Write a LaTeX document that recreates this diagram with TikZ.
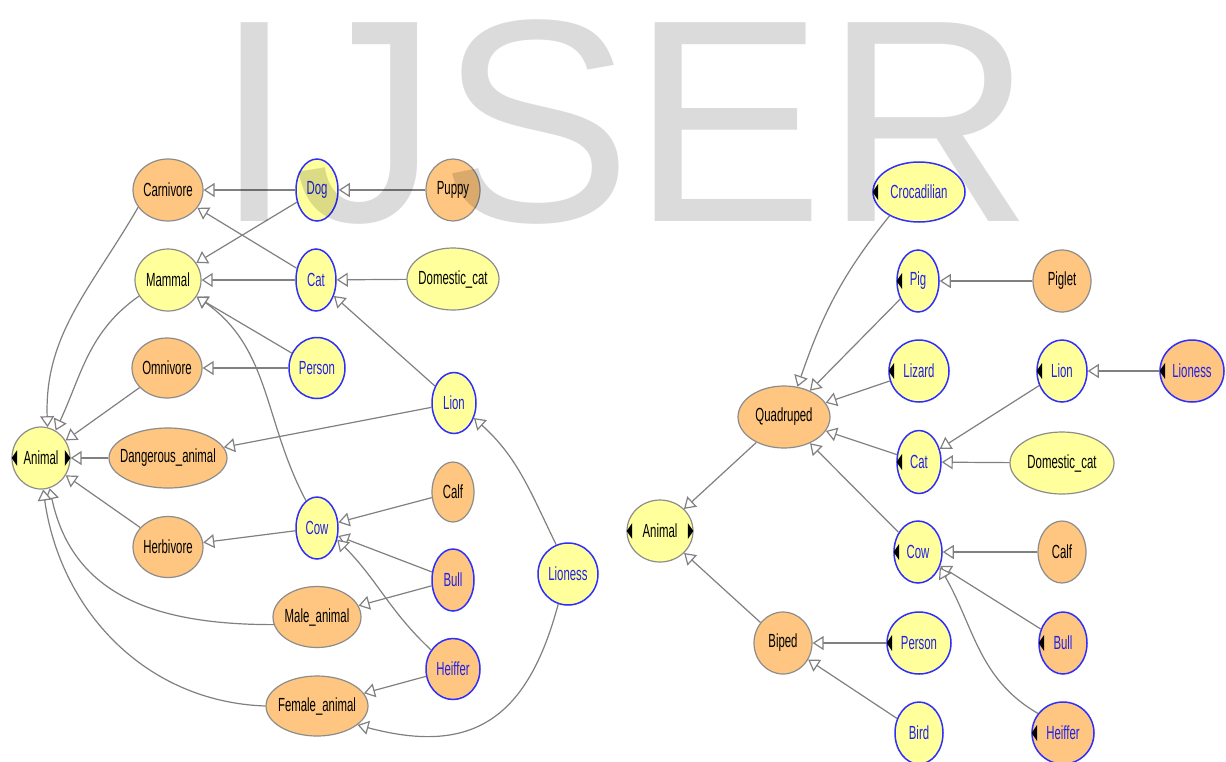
\documentclass[tikz,border=0pt]{standalone}
\usepackage{fontspec}
\setmainfont{Liberation Sans}
\newfontfamily\nodefont{Liberation Sans}[FakeStretch=0.6]
\usetikzlibrary{shapes.geometric,arrows.meta}

\definecolor{clsyellow}{HTML}{FFFF9C}
\definecolor{clsorange}{HTML}{FEC680}
\definecolor{rimblue}{HTML}{2E2EFF}
\definecolor{rimgray}{HTML}{8C8C8C}
\definecolor{edgegray}{HTML}{808080}
\definecolor{txtblue}{HTML}{2020E8}

% zero-width label so the ellipse keeps its given size
\newcommand{\nm}[1]{\makebox[0pt]{#1}}
% small black expand markers on the class bubbles
\newcommand{\tril}[1]{\fill (#1.west) ++(0.3,0) -- ++(5.5,8) -- ++(0,-16) -- cycle;}
\newcommand{\trir}[1]{\fill (#1.east) ++(-0.3,0) -- ++(-5.5,8) -- ++(0,-16) -- cycle;}

\tikzset{
  cls/.style={ellipse, inner sep=0pt, font=\nodefont\fontsize{19}{19}\selectfont},
  sz/.style 2 args={minimum width=#1pt, minimum height=#2pt},
  yel/.style={fill=clsyellow},
  org/.style={fill=clsorange},
  bl/.style={draw=rimblue, text=txtblue, line width=1.5pt},
  gr/.style={draw=rimgray, text=black, line width=1.2pt},
  isa/.style={draw=edgegray, line width=1.2pt,
    -{Triangle[length=11pt,width=14pt,fill=white]}},
}

\begin{document}
\begin{tikzpicture}[x=1pt,y=1pt]
\fill[white] (0,0) rectangle (1226,-761);
\useasboundingbox (0,0) rectangle (1226,-761);

% ---------- left hierarchy ----------
\node[cls,org,gr,sz={70}{62}]  (carn)     at (168,-190) {\nm{Carnivore}};
\node[cls,yel,gr,sz={66}{62}]  (mam)      at (168,-280) {\nm{Mammal}};
\node[cls,org,gr,sz={70}{60}]  (omni)     at (167,-368) {\nm{Omnivore}};
\node[cls,org,gr,sz={118}{60}] (dang)     at (168,-458) {\nm{Dangerous\_animal}};
\node[cls,yel,gr,sz={58}{62}]  (anL)      at (41,-458)  {\nm{Animal}};
\node[cls,org,gr,sz={70}{61}]  (herb)     at (168,-547) {\nm{Herbivore}};
\node[cls,org,gr,sz={88}{61}]  (male)     at (317,-617) {\nm{Male\_animal}};
\node[cls,org,gr,sz={102}{60}] (fem)      at (317,-706) {\nm{Female\_animal}};
\node[cls,yel,bl,sz={42}{62}]  (dogL)     at (317,-190) {\nm{Dog}};
\node[cls,org,gr,sz={54}{62}]  (puppy)    at (453,-190) {\nm{Puppy}};
\node[cls,yel,bl,sz={40}{62}]  (catL)     at (316,-280) {\nm{Cat}};
\node[cls,yel,gr,sz={92}{62}]  (dcatL)    at (453,-279) {\nm{Domestic\_cat}};
\node[cls,yel,bl,sz={56}{61}]  (persL)    at (317,-368) {\nm{Person}};
\node[cls,yel,bl,sz={44}{61}]  (lionL)    at (454,-403) {\nm{Lion}};
\node[cls,org,gr,sz={42}{60}]  (calfL)    at (453,-492) {\nm{Calf}};
\node[cls,yel,bl,sz={42}{62}]  (cowL)     at (317,-528) {\nm{Cow}};
\node[cls,org,bl,sz={42}{62}]  (bullL)    at (453,-580) {\nm{Bull}};
\node[cls,org,bl,sz={54}{61}]  (heifL)    at (453,-669) {\nm{Heiffer}};
\node[cls,yel,bl,sz={60}{62}]  (lionessL) at (568,-574) {\nm{Lioness}};
\tril{anL} \trir{anL}

\draw[isa] (dogL) -- (carn);
\draw[isa] (puppy) -- (dogL);
\draw[isa] (dogL) -- (mam);
\draw[isa] (catL) -- (carn);
\draw[isa] (catL) -- (mam);
\draw[isa] (dcatL) -- (catL);
\draw[isa] (persL) -- (mam);
\draw[isa] (persL) -- (omni);
\draw[isa] (lionL) -- (catL);
\draw[isa] (lionL) -- (dang);
\draw[isa] (lionessL.112) to[out=116,in=-42] (lionL.-37);
\draw[isa] (lionessL.-108) to[out=-105,in=-15,looseness=1.3] (fem.-25);
\draw[isa] (cowL.112) to[out=118,in=-35] (mam.-30);
\draw[isa] (cowL) -- (herb);
\draw[isa] (calfL) -- (cowL);
\draw[isa] (bullL) -- (cowL);
\draw[isa] (bullL) -- (male);
\draw[isa] (heifL.139) to[out=137,in=-45] (cowL.-30);
\draw[isa] (heifL) -- (fem);
\draw[isa] (carn.210) to[out=240,in=92] (anL.78);
\draw[isa] (mam.209) to[out=215,in=65] (anL.62);
\draw[isa] (omni) -- (anL);
\draw[isa] (dang) -- (anL);
\draw[isa] (herb) -- (anL);
\draw[isa] (male.190) to[out=180,in=-78,looseness=1.1] (anL.-74);
\draw[isa] (fem.180) to[out=178,in=-82] (anL.-86);

% ---------- right hierarchy ----------
\node[cls,yel,bl,sz={92}{60}]  (croc)     at (919,-192)  {\nm{Crocadilian}};
\node[cls,yel,bl,sz={42}{62}]  (pig)      at (918,-281)  {\nm{Pig}};
\node[cls,org,gr,sz={58}{62}]  (piglet)   at (1062,-281) {\nm{Piglet}};
\node[cls,yel,bl,sz={60}{62}]  (liz)      at (919,-371)  {\nm{Lizard}};
\node[cls,yel,bl,sz={50}{62}]  (lionR)    at (1062,-371) {\nm{Lion}};
\node[cls,org,bl,sz={64}{62}]  (lionessR) at (1192,-371) {\nm{Lioness}};
\node[cls,org,gr,sz={92}{62}]  (quad)     at (784,-417)  {\nm{Quadruped}};
\node[cls,yel,bl,sz={44}{63}]  (catR)     at (919,-462)  {\nm{Cat}};
\node[cls,yel,gr,sz={104}{62}] (dcatR)    at (1062,-463) {\nm{Domestic\_cat}};
\node[cls,yel,gr,sz={66}{62}]  (anR)      at (660,-531)  {\nm{Animal}};
\node[cls,yel,bl,sz={48}{62}]  (cowR)     at (918,-552)  {\nm{Cow}};
\node[cls,org,gr,sz={48}{62}]  (calfR)    at (1062,-552) {\nm{Calf}};
\node[cls,org,bl,sz={48}{62}]  (bullR)    at (1063,-643) {\nm{Bull}};
\node[cls,org,bl,sz={62}{62}]  (heifR)    at (1063,-733) {\nm{Heiffer}};
\node[cls,org,gr,sz={58}{62}]  (biped)    at (783,-643)  {\nm{Biped}};
\node[cls,yel,bl,sz={64}{62}]  (persR)    at (919,-643)  {\nm{Person}};
\node[cls,yel,bl,sz={48}{62}]  (bird)     at (919,-733)  {\nm{Bird}};
\tril{croc} \tril{pig} \tril{liz} \tril{lionR} \tril{lionessR}
\tril{catR} \tril{anR} \trir{anR} \tril{cowR} \tril{bullR} \tril{heifR} \tril{persR}

\draw[isa] (croc.219) to[out=231,in=71] (quad.66);
\draw[isa] (pig) -- (quad);
\draw[isa] (piglet) -- (pig);
\draw[isa] (liz) -- (quad);
\draw[isa] (lionessR) -- (lionR);
\draw[isa] (lionR) -- (catR);
\draw[isa] (catR) -- (quad);
\draw[isa] (dcatR) -- (catR);
\draw[isa] (cowR) -- (quad);
\draw[isa] (calfR) -- (cowR);
\draw[isa] (bullR) -- (cowR);
\draw[isa] (heifR.142) to[out=150,in=-60] (cowR.-35);
\draw[isa] (quad) -- (anR);
\draw[isa] (biped) -- (anR);
\draw[isa] (persR) -- (biped);
\draw[isa] (bird) -- (biped);

% ---------- overlaid mark ----------
\node[anchor=base west, inner sep=0pt, text=black, text opacity=0.14,
      font=\fontsize{289}{289}\selectfont] (mark) at (214,-221) {IJSER};
\end{tikzpicture}
\end{document}
